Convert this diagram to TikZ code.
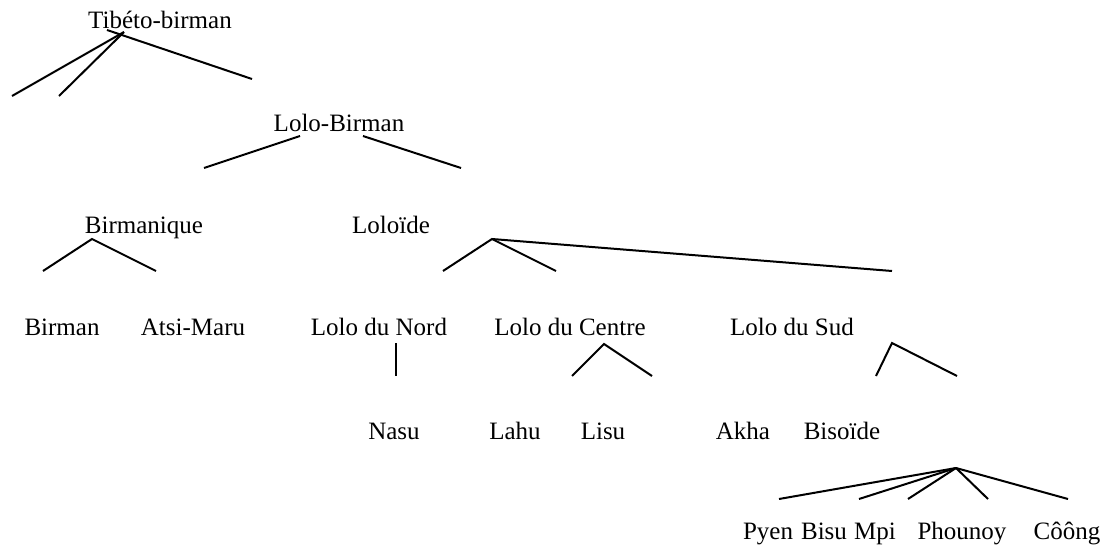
\documentclass[tikz,border=0pt]{standalone}
\usepackage{fontspec}
\setmainfont{Liberation Serif}
\begin{document}
\begin{tikzpicture}[x=1pt,y=-1pt,
  lbl/.style={anchor=base,inner sep=0pt,font=\fontsize{25}{30}\selectfont},
  edge/.style={line width=2pt}]
\useasboundingbox (0,0) rectangle (1109,549);
% labels
\node[lbl] (tb) at (160,28) {Tibéto-birman};
\node[lbl] (lb) at (339,131) {Lolo-Birman};
\node[lbl] (bm) at (144,233) {Birmanique};
\node[lbl] (ld) at (391,233) {Loloïde};
\node[lbl] (bi) at (62,335) {Birman};
\node[lbl] (am) at (193,335) {Atsi-Maru};
\node[lbl] (ln) at (379,335) {Lolo du Nord};
\node[lbl] (lc) at (570,335) {Lolo du Centre};
\node[lbl] (ls) at (792,335) {Lolo du Sud};
\node[lbl] (na) at (394,439) {Nasu};
\node[lbl] (la) at (515,439) {Lahu};
\node[lbl] (li) at (603,439) {Lisu};
\node[lbl] (ak) at (743,439) {Akha};
\node[lbl] (bs) at (842,439) {Bisoïde};
\node[lbl] (py) at (768,539) {Pyen};
\node[lbl] (bu) at (824,539) {Bisu};
\node[lbl] (mp) at (875,539) {Mpi};
\node[lbl] (ph) at (962,539) {Phounoy};
\node[lbl] (co) at (1067,539) {Côông};
% connector points
\coordinate (tA) at (124,32);
\coordinate (tB) at (107,30);
\coordinate (t1) at (12,96);
\coordinate (t2) at (59,96);
\coordinate (t3) at (252,79);
\coordinate (lA) at (300,136);
\coordinate (lB) at (363,136);
\coordinate (l1) at (204,168);
\coordinate (l2) at (461,168);
\coordinate (bA) at (92,239);
\coordinate (b1) at (43,271);
\coordinate (b2) at (156,271);
\coordinate (dA) at (492,239);
\coordinate (d1) at (443,271);
\coordinate (d2) at (556,271);
\coordinate (d3) at (892,271);
\coordinate (nA) at (396,343);
\coordinate (n1) at (396,376);
\coordinate (cA) at (604,344);
\coordinate (c1) at (572,376);
\coordinate (c2) at (652,376);
\coordinate (sA) at (892,343);
\coordinate (s1) at (876,376);
\coordinate (s2) at (957,376);
\coordinate (oA) at (956,468);
\coordinate (o1) at (779,499);
\coordinate (o2) at (859,499);
\coordinate (o3) at (908,499);
\coordinate (o4) at (988,499);
\coordinate (o5) at (1068,499);
% connectors
\draw[edge] (tA) -- (t1);
\draw[edge] (tA) -- (t2);
\draw[edge] (tB) -- (t3);
\draw[edge] (lA) -- (l1);
\draw[edge] (lB) -- (l2);
\draw[edge] (b1) -- (bA) -- (b2);
\draw[edge] (d1) -- (dA) -- (d2);
\draw[edge] (dA) -- (d3);
\draw[edge] (nA) -- (n1);
\draw[edge] (c1) -- (cA) -- (c2);
\draw[edge] (s1) -- (sA) -- (s2);
\foreach \e in {o1,o2,o3,o4,o5} \draw[edge] (oA) -- (\e);
\end{tikzpicture}
\end{document}
